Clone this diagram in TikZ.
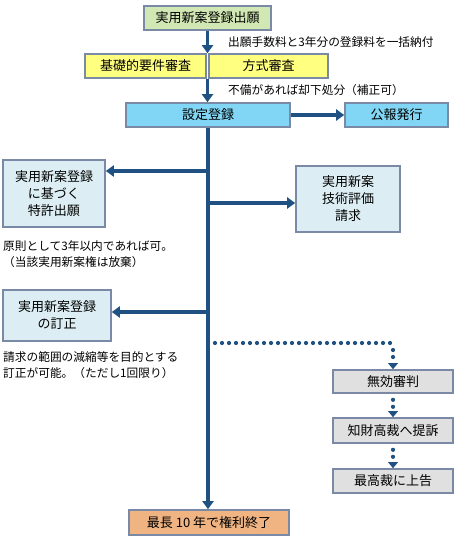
\documentclass[tikz,border=0pt]{standalone}
\usepackage{fontspec}
\setmainfont{Noto Sans CJK JP}
\usetikzlibrary{arrows.meta}

\definecolor{edge}{HTML}{7A8AA6}
\definecolor{flow}{HTML}{1F5282}
\definecolor{apply}{HTML}{D2E8B4}
\definecolor{check}{HTML}{FFFF80}
\definecolor{regist}{HTML}{80D6F4}
\definecolor{sidebox}{HTML}{DCEEF4}
\definecolor{trial}{HTML}{E0E0E0}
\definecolor{finish}{HTML}{F0B483}

\tikzset{
  box/.style={draw=edge, line width=1.6pt, inner sep=0pt, align=center,
    font=\fontsize{13}{17}\selectfont},
  note/.style={inner sep=0pt, anchor=west, align=left,
    font=\fontsize{11.7}{16}\selectfont},
  mainflow/.style={draw=flow, line width=3.6pt},
  bigarrow/.style={mainflow, -{Triangle[width=11pt,length=8pt]}},
  dotline/.style={draw=flow, line width=4.2pt, line cap=round,
    dash pattern=on 0pt off 7pt},
  dotarrow/.style={dotline, -{Triangle[width=10pt,length=6pt,line cap=butt,line width=0pt]}},
}

\begin{document}
\begin{tikzpicture}[x=1pt,y=-1pt]
  \useasboundingbox (0,0) rectangle (457,540);

  % main column
  \node[box, fill=apply, minimum width=127pt, minimum height=24pt] (apl) at (207.5,18) {実用新案登録出願};
  \node[box, fill=check, minimum width=121pt, minimum height=24pt] (kiso) at (145.5,66) {基礎的要件審査};
  \node[box, fill=check, minimum width=119pt, minimum height=24pt] (hoshiki) at (268.5,66) {方式審査};
  \node[box, fill=regist, minimum width=164pt, minimum height=24pt] (settei) at (208,115) {設定登録};
  \node[box, fill=regist, minimum width=103pt, minimum height=24pt] (koho) at (396.5,115) {公報発行};
  \node[box, fill=finish, minimum width=160pt, minimum height=25pt] (end) at (209,522.5) {最長 10 年で権利終了};

  % side boxes
  \node[box, fill=sidebox, minimum width=102pt, minimum height=67pt] (tokkyo) at (54,193.5) {実用新案登録\\に基づく\\特許出願};
  \node[box, fill=sidebox, minimum width=104pt, minimum height=66pt] (hyoka) at (348,199) {実用新案\\技術評価\\請求};
  \node[box, fill=sidebox, minimum width=108pt, minimum height=51pt] (teisei) at (57,315.5) {実用新案登録\\の訂正};

  % trial path
  \node[box, fill=trial, minimum width=120pt, minimum height=23pt] (muko) at (393,381.5) {無効審判};
  \node[box, fill=trial, minimum width=120pt, minimum height=25pt] (chizai) at (393,430.5) {知財高裁へ提訴};
  \node[box, fill=trial, minimum width=120pt, minimum height=24pt] (saiko) at (393,481) {最高裁に上告};

  % notes
  \node[note] (fee) at (228,42) {出願手数料と3年分の登録料を一括納付};
  \node[note] (fubi) at (228,90) {不備があれば却下処分（補正可）};
  \node[note] (gensoku) at (3,254) {原則として3年以内であれば可。\\（当該実用新案権は放棄）};
  \node[note] (gensyuku) at (3,365) {請求の範囲の減縮等を目的とする\\訂正が可能。（ただし1回限り）};

  % connectors
  \coordinate (top) at (apl.south);
  \draw[bigarrow] (top) -- (top |- kiso.north);
  \draw[bigarrow] (top |- kiso.south) -- (top |- settei.north);
  \draw[bigarrow] (settei.east) -- (koho.west);
  \coordinate (br1) at (208,171);
  \coordinate (br2) at (208,203);
  \coordinate (br3) at (208,312);
  \coordinate (br4) at (208,343);
  \draw[bigarrow] (settei.south -| br1) -- (br1 |- end.north);
  \draw[bigarrow] (br1) -- (br1 -| tokkyo.east);
  \draw[bigarrow] (br2) -- (br2 -| hyoka.west);
  \draw[bigarrow] (br3) -- (br3 -| teisei.east);

  \coordinate (turn) at (br4 -| muko.north);
  \draw[dotline] ([xshift=7pt]br4) -- (turn);
  \draw[dotarrow] ([yshift=-7pt]turn) -- (muko.north);
  \draw[dotarrow] ([yshift=-6pt]muko.south) -- (chizai.north);
  \draw[dotarrow] ([yshift=-6pt]chizai.south) -- (saiko.north);
\end{tikzpicture}
\end{document}
